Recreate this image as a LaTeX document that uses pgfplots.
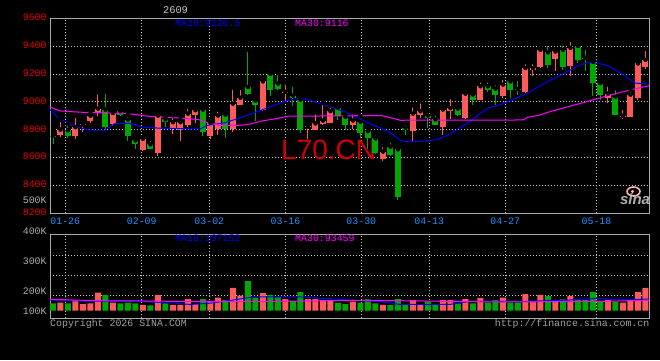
\documentclass[border=0pt]{standalone}
\usepackage{pgfplots}
\usepackage{pgfplotstable}
\pgfplotsset{compat=1.18}
\usepackage{fontspec}
\setmainfont{Liberation Mono}
\newfontfamily\sansf{Liberation Sans}
\definecolor{cUp}{RGB}{255,90,90}
\definecolor{cDn}{RGB}{0,168,0}
\definecolor{cMAa}{RGB}{0,0,255}
\definecolor{cMAb}{RGB}{255,0,255}
\definecolor{cPrice}{RGB}{230,0,0}
\definecolor{cDate}{RGB}{30,144,255}
\definecolor{cGray}{RGB}{160,160,160}
\definecolor{cVolLbl}{RGB}{175,175,175}
\definecolor{cFrame}{RGB}{170,170,170}
\definecolor{cGrid}{RGB}{200,200,200}
\definecolor{cWater}{RGB}{210,0,0}
\definecolor{cLogo}{RGB}{255,175,185}
\newcommand{\lbl}{\fontsize{9.9}{10}\selectfont}

% i open high low close volume(K)
\pgfplotstableread{
i o h l c v
1 8765 8873 8749 8801 73
3 8753 8901 8730 8818 97
4 8831 8858 8782 8838 61
5 8866 8920 8849 8901 66
6 8920 9068 8896 8951 164
8 8844 8939 8825 8920 73
12 8654 8747 8650 8735 52
14 8636 8905 8611 8902 143
16 8807 8902 8766 8854 52
17 8797 8874 8720 8854 52
18 8831 8964 8821 8916 106
19 8909 8964 8845 8940 61
21 8754 8874 8730 8850 88
22 8807 8945 8759 8902 118
24 8802 9100 8783 8988 207
25 8981 9100 8975 9029 137
28 8945 9176 8933 9147 161
31 9065 9140 9004 9072 106
34 8817 8838 8731 8824 106
35 8797 8926 8795 8845 106
36 8838 8993 8836 8866 97
37 8850 8974 8848 8933 91
40 8833 8926 8807 8866 82
44 8588 8688 8576 8643 52
48 8790 8974 8719 8916 97
49 8909 9004 8886 8933 61
52 8819 8957 8759 8945 97
53 8933 9035 8874 8955 97
55 8885 9083 8874 9059 106
57 9012 9155 9010 9112 116
60 9040 9171 9028 9124 118
63 9069 9285 9065 9243 152
64 9226 9285 9183 9243 82
65 9250 9400 9243 9374 143
67 9309 9374 9219 9362 88
69 9255 9445 9183 9388 134
74 9028 9124 8990 9059 97
76 8894 8957 8878 8901 73
77 8890 9088 8888 9052 97
78 9030 9288 9010 9276 170
79 9250 9380 9238 9302 207
}\uptab

\pgfplotstableread{
i o h l c v
0 8758 8790 8700 8750 66
2 8796 8844 8742 8758 66
7 8944 9073 8801 8818 143
9 8932 8949 8896 8904 66
10 8873 8908 8718 8758 73
11 8723 8754 8663 8695 66
13 8695 8737 8660 8665 48
15 8874 8886 8822 8856 66
20 8945 8974 8754 8783 106
23 8909 8915 8743 8807 97
26 9107 9374 9050 9059 270
27 9009 9029 8866 8981 118
29 9202 9205 9040 9083 143
30 9131 9207 9083 9095 121
32 9045 9124 8969 9027 88
33 9016 9036 8778 8797 170
38 8959 8974 8868 8897 73
39 8893 8909 8800 8831 61
41 8857 8897 8743 8774 73
42 8790 8814 8660 8743 103
43 8738 8774 8624 8631 66
45 8678 8724 8612 8616 52
46 8659 8671 8297 8314 106
47 8814 8850 8759 8797 52
50 8902 8933 8814 8881 82
51 8874 8916 8831 8833 61
54 8952 8981 8902 8909 66
56 9052 9076 8981 9016 66
58 9112 9155 9069 9088 73
59 9095 9135 8981 9047 97
61 9147 9171 9028 9083 73
62 9092 9164 9052 9084 73
66 9355 9416 9243 9266 134
68 9374 9416 9231 9250 103
70 9402 9426 9278 9300 97
71 9317 9390 9219 9310 97
72 9288 9292 9040 9133 170
73 9135 9145 9016 9052 82
75 9035 9100 8905 8909 82
}\dntab

\pgfplotsset{sina/.style={
  scale only axis, anchor=south west,
  width=599.3pt,
  xmin=-0.4, xmax=79.51,
  axis line style={draw=cFrame, line width=1pt},
  major tick length=0pt,
  tick style={draw=none},
  grid=major,
  major grid style={draw=cGrid, line width=1pt, dash pattern=on 1pt off 2pt},
  xtick={1.63,11.83,20.84,31.0,41.11,50.17,60.31,72.47},
  /pgf/number format/assume math mode=true,
}}

\begin{document}
\begin{tikzpicture}[x=1pt,y=1pt]
\fill[black] (0pt,0pt) rectangle (660pt,360pt);

% ---------------- price panel ----------------
\begin{axis}[sina,
  at={(50pt,146.7pt)}, height=195pt,
  ymin=8200, ymax=9600,
  ytick={8200,8400,8600,8800,9000,9200,9400,9600},
  yticklabels={8200,8400,8600,8800,9000,9200,9400,9600},
  yticklabel style={anchor=base east, inner sep=0pt, xshift=-3.2pt, yshift=-2.4pt, text=cPrice, font=\lbl},
  xticklabels={01-26,02-09,03-02,03-16,03-30,04-13,04-27,05-18},
  xticklabel style={anchor=base, inner sep=0pt, yshift=-10.7pt, text=cDate, font=\lbl},
]
\node[anchor=base west, inner sep=0pt, text=cWater, font=\sansf\fontsize{28}{28}\selectfont] at (axis cs:30.4,8588) {L70.CN};

% wicks
\addplot[only marks, mark=none, forget plot, error bars/.cd, y dir=minus, y explicit, error mark=none, error bar style={draw=cUp, line width=1pt}]
  table[x=i, y=h, y error expr=\thisrow{h}-\thisrow{l}] {\uptab};
\addplot[only marks, mark=none, forget plot, error bars/.cd, y dir=minus, y explicit, error mark=none, error bar style={draw=cDn, line width=1pt}]
  table[x=i, y=h, y error expr=\thisrow{h}-\thisrow{l}] {\dntab};
% bodies
\addplot[only marks, mark=none, forget plot, error bars/.cd, y dir=minus, y explicit, error mark=none, error bar style={draw=cUp, line width=6pt}]
  table[x=i, y=c, y error expr=\thisrow{c}-\thisrow{o}] {\uptab};
\addplot[only marks, mark=none, forget plot, error bars/.cd, y dir=minus, y explicit, error mark=none, error bar style={draw=cDn, line width=6pt}]
  table[x=i, y=o, y error expr=\thisrow{o}-\thisrow{c}] {\dntab};

% MA10
\addplot[cMAa, line width=1pt, mark=none] coordinates {
(-0.4,8945) (0.67,8885) (1.6,8861) (2.53,8835) (3.6,8814) (4.93,8797) (6.93,8797)
(8.27,8845) (10.27,8845) (12,8819) (14.27,8811) (19.6,8805) (20.53,8831) (22.93,8850)
(24.27,8874) (25.87,8903) (28,8945) (30.93,9004) (32.27,9021) (33.6,9021) (34.67,9004)
(36.93,8965) (39.33,8921) (42,8850) (44.67,8790) (46.4,8722) (47.73,8712) (49.6,8719)
(51.33,8731) (52.67,8760) (54.4,8820) (55.6,8860) (56.67,8905) (58,8955) (59.73,8981)
(61.07,9012) (63.33,9064) (64.67,9107) (66,9147) (67.33,9183) (68.67,9219) (70,9259)
(71.33,9283) (72.67,9278) (74,9259) (75.33,9219) (76.67,9171) (77.6,9135) (78.93,9131) (79.5,9126)
};
% MA30
\addplot[cMAb, line width=1pt, mark=none] coordinates {
(-0.4,8964) (0.93,8935) (3.6,8926) (6.27,8921) (10,8916) (12.67,8897) (16.27,8886)
(19.33,8874) (20.67,8850) (22.27,8831) (24.93,8831) (26.27,8840) (27.73,8862) (29.6,8878)
(31.33,8897) (39.33,8900) (43.73,8902) (45.07,8886) (46.27,8868) (62.67,8870) (63.33,8890)
(64.67,8902) (66.27,8930) (68.67,8965) (71.33,9004) (74,9045) (76.67,9082) (79.5,9116)
};
\end{axis}

% ---------------- volume panel ----------------
\begin{axis}[sina,
  at={(50pt,41.7pt)}, height=83.6pt,
  ymin=-69.2, ymax=691.6,
  ytick={138.3,322.1,504.1}, yticklabels={},
  xticklabels={},
]
\addplot[ybar, bar width=6pt, bar shift=0pt, fill=cUp, draw=none, forget plot] table[x=i, y=v] {\uptab};
\addplot[ybar, bar width=6pt, bar shift=0pt, fill=cDn, draw=none, forget plot] table[x=i, y=v] {\dntab};
\addplot[cMAa, line width=1pt, mark=none] coordinates {
(-0.4,97) (3.6,88) (7.6,86) (11.6,85) (16.3,68) (18.3,57) (20.9,68) (24.0,97) (26.7,125)
(33.0,125) (36.9,109) (39.6,97) (43.6,82) (46.3,57) (52.9,57) (55.6,85) (63.6,86)
(68.9,97) (72.5,112) (75.6,100) (79.5,106)
};
\addplot[cMAb, line width=1pt, mark=none] coordinates {
(-0.4,103) (6.3,91) (12.9,88) (19.6,82) (26.3,82) (33.3,88) (39.6,94) (46.3,91)
(53.0,85) (59.6,79) (66.3,82) (73.0,85) (79.5,94)
};
\end{axis}

% ---------------- texts ----------------
\node[anchor=base, inner sep=0pt, text=cGrid, font=\fontsize{10.4}{11}\selectfont] at (175.5pt,346.7pt) {2609};
\node[anchor=base west, inner sep=0pt, text=cMAa, font=\lbl] at (175pt,333.3pt) {MA10:9126.5};
\node[anchor=base west, inner sep=0pt, text=cMAb, font=\lbl] at (295pt,333.3pt) {MA30:9116};
\node[anchor=base west, inner sep=0pt, text=cMAa, font=\lbl] at (175pt,118.3pt) {MA10:107152};
\node[anchor=base west, inner sep=0pt, text=cMAb, font=\lbl] at (295pt,118.3pt) {MA30:93459};

\node[anchor=base east, inner sep=0pt, text=cVolLbl, font=\lbl] at (46.8pt,156.7pt) {500K};
\node[anchor=base east, inner sep=0pt, text=cVolLbl, font=\lbl] at (46.8pt,126pt) {400K};
\node[anchor=base east, inner sep=0pt, text=cVolLbl, font=\lbl] at (46.8pt,96pt) {300K};
\node[anchor=base east, inner sep=0pt, text=cVolLbl, font=\lbl] at (46.8pt,66pt) {200K};
\node[anchor=base east, inner sep=0pt, text=cVolLbl, font=\lbl] at (46.8pt,46pt) {100K};

\node[anchor=base west, inner sep=0pt, text=cGray, font=\lbl] at (50pt,33.3pt) {Copyright 2026 SINA.COM};
\node[anchor=base east, inner sep=0pt, text=cGray, font=\lbl] at (649.5pt,33.3pt) {http://finance.sina.com.cn};

% sina logo
\draw[cLogo, line width=1.6pt] (633.5pt,168.5pt) ellipse (6.5pt and 4.5pt);
\fill[cLogo] (632.5pt,168.5pt) circle (1.6pt);
\node[anchor=base, inner sep=0pt, text=cVolLbl, font=\sansf\bfseries\itshape\fontsize{15}{15}\selectfont] at (635pt,155.5pt) {sina};

\pgfresetboundingbox
\path[use as bounding box] (0pt,0pt) rectangle (660pt,360pt);
\end{tikzpicture}
\end{document}
